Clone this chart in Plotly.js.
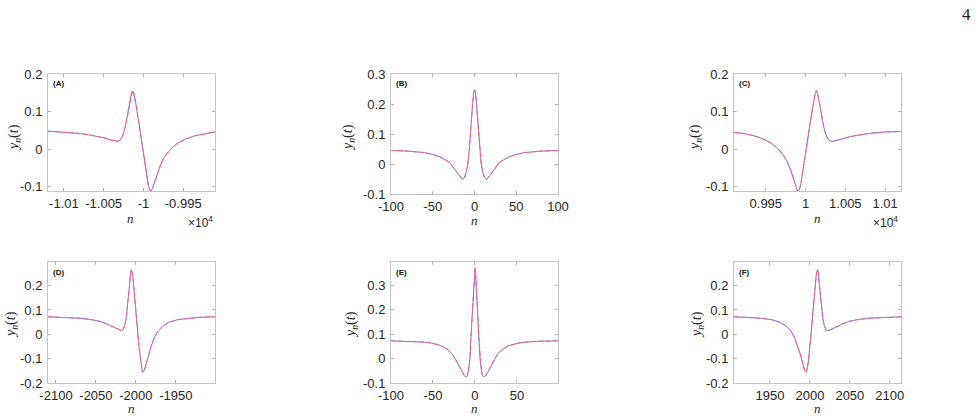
<!DOCTYPE html>
<html>
<head>
<meta charset="utf-8">
<script src="https://cdn.plot.ly/plotly-3.0.1.min.js"></script>
<style>html,body{margin:0;padding:0;background:#fff;}#chart{width:978px;height:417px;}</style>
</head>
<body>
<div id="chart"></div>
<script>
// ---------- data ----------
const nA = [-10120,-10100,-10080,-10065,-10055,-10047,-10040,-10035,-10032,-10029,-10026,-10023,-10020,-10017,-10015,-10013.5,-10012,-10009,-10005,-10001,-9997,-9994,-9992,-9990.5,-9989,-9986,-9982,-9977,-9972,-9965,-9957,-9947,-9935,-9922,-9910];
const yA_blue = [0.048,0.046,0.042,0.037,0.033,0.029,0.024,0.021,0.021,0.025,0.036,0.058,0.090,0.127,0.150,0.155,0.148,0.115,0.060,0.003,-0.055,-0.093,-0.109,-0.111,-0.106,-0.088,-0.060,-0.033,-0.016,0.002,0.016,0.027,0.036,0.042,0.046];
const yA_red  = [0.048,0.046,0.042,0.037,0.033,0.029,0.024,0.021,0.021,0.025,0.036,0.058,0.090,0.127,0.150,0.156,0.148,0.115,0.060,0.003,-0.055,-0.093,-0.109,-0.112,-0.106,-0.088,-0.060,-0.033,-0.016,0.002,0.016,0.027,0.036,0.042,0.046];

const nB = [-100,-80,-60,-50,-40,-30,-25,-20,-17,-14.5,-12,-10,-8,-6,-4,-3,-2,-1,0,1,2,3,4,6,8,10,12,14.5,17,20,25,30,40,50,60,80,100];
const yB_blue = [0.045,0.043,0.038,0.032,0.022,0.006,-0.013,-0.032,-0.044,-0.051,-0.045,-0.028,0.000,0.055,0.135,0.180,0.215,0.240,0.247,0.240,0.215,0.180,0.135,0.055,0.000,-0.028,-0.045,-0.051,-0.044,-0.032,-0.013,0.006,0.022,0.032,0.038,0.043,0.045];
const yB_red  = [0.045,0.043,0.038,0.032,0.022,0.006,-0.013,-0.032,-0.044,-0.052,-0.045,-0.028,0.000,0.055,0.135,0.180,0.216,0.242,0.250,0.242,0.216,0.180,0.135,0.055,0.000,-0.028,-0.045,-0.052,-0.044,-0.032,-0.013,0.006,0.022,0.032,0.038,0.043,0.045];

const nC = [9910,9922,9935,9947,9957,9965,9972,9977,9982,9986,9989,9990.5,9992,9994,9997,10001,10005,10009,10012,10013.5,10015,10017,10020,10023,10026,10029,10032,10035,10040,10047,10055,10065,10080,10100,10120];
const yC_blue = [0.045,0.042,0.036,0.027,0.016,0.002,-0.016,-0.033,-0.060,-0.088,-0.106,-0.111,-0.109,-0.093,-0.055,0.003,0.060,0.115,0.148,0.155,0.150,0.127,0.090,0.058,0.036,0.025,0.021,0.021,0.024,0.029,0.033,0.037,0.042,0.046,0.047];
const yC_red  = [0.045,0.042,0.036,0.027,0.016,0.002,-0.016,-0.033,-0.060,-0.088,-0.106,-0.112,-0.109,-0.093,-0.055,0.003,0.060,0.115,0.148,0.156,0.150,0.127,0.090,0.058,0.036,0.025,0.021,0.021,0.024,0.029,0.033,0.037,0.042,0.046,0.047];

const nD = [-2110,-2090,-2070,-2055,-2045,-2037,-2030,-2024,-2020,-2018,-2016,-2014,-2012,-2010,-2008,-2006.5,-2005.5,-2004,-2002,-2000,-1998,-1996,-1994,-1992,-1991,-1989.5,-1987,-1984,-1981,-1977,-1972,-1966,-1958,-1948,-1935,-1920,-1901];
const yD_blue = [0.072,0.070,0.066,0.060,0.053,0.043,0.033,0.022,0.016,0.015,0.019,0.035,0.070,0.125,0.200,0.255,0.267,0.245,0.180,0.100,0.020,-0.055,-0.115,-0.150,-0.155,-0.148,-0.120,-0.082,-0.050,-0.015,0.015,0.035,0.050,0.060,0.066,0.070,0.072];
const yD_red  = [0.072,0.070,0.066,0.060,0.053,0.043,0.033,0.022,0.016,0.015,0.019,0.035,0.070,0.125,0.200,0.255,0.265,0.245,0.180,0.100,0.020,-0.055,-0.115,-0.152,-0.156,-0.148,-0.120,-0.082,-0.050,-0.015,0.015,0.035,0.050,0.060,0.066,0.070,0.072];

const nE = [-100,-80,-60,-50,-40,-33,-27,-22,-18,-15,-12.5,-10.5,-9,-7.5,-6,-4.5,-3,-2,-1,0,1,2,3,4.5,6,7.5,9,10.5,12.5,15,18,22,27,33,40,50,60,80,99];
const yE_blue = [0.072,0.071,0.067,0.062,0.052,0.038,0.018,-0.010,-0.038,-0.058,-0.071,-0.075,-0.070,-0.045,0.000,0.100,0.200,0.280,0.335,0.355,0.335,0.280,0.200,0.100,0.000,-0.045,-0.070,-0.075,-0.071,-0.058,-0.038,-0.010,0.018,0.038,0.052,0.062,0.067,0.071,0.072];
const yE_red  = [0.072,0.071,0.067,0.062,0.052,0.038,0.018,-0.010,-0.038,-0.058,-0.071,-0.075,-0.070,-0.045,0.000,0.100,0.205,0.290,0.345,0.375,0.345,0.290,0.205,0.100,0.000,-0.045,-0.070,-0.075,-0.071,-0.058,-0.038,-0.010,0.018,0.038,0.052,0.062,0.067,0.071,0.072];

const nF = [1905,1924,1939,1952,1962,1970,1976,1981,1985,1988,1991,1993.5,1995,1996,1998,2000,2002,2004,2006,2008,2009.5,2010.5,2012,2014,2016,2018,2020,2022,2024,2028,2034,2041,2049,2059,2074,2094,2114];
const yF_blue = [0.072,0.070,0.066,0.060,0.050,0.035,0.015,-0.015,-0.050,-0.082,-0.120,-0.148,-0.152,-0.148,-0.115,-0.055,0.020,0.100,0.180,0.245,0.267,0.255,0.200,0.125,0.070,0.035,0.019,0.015,0.016,0.022,0.033,0.043,0.053,0.060,0.066,0.070,0.072];
const yF_red  = [0.072,0.070,0.066,0.060,0.050,0.035,0.015,-0.015,-0.050,-0.082,-0.120,-0.152,-0.158,-0.152,-0.115,-0.055,0.020,0.100,0.180,0.245,0.265,0.255,0.200,0.125,0.070,0.035,0.019,0.015,0.016,0.022,0.033,0.043,0.053,0.060,0.066,0.070,0.072];

// tick values and labels
const xTickA = [-10100,-10050,-10000,-9950], xTextA = ['-1.01','-1.005','-1','-0.995'];
const xTickB = [-100,-50,0,50,100],          xTextB = ['-100','-50','0','50','100'];
const xTickC = [9950,10000,10050,10100],     xTextC = ['0.995','1','1.005','1.01'];
const xTickD = [-2100,-2050,-2000,-1950],    xTextD = ['-2100','-2050','-2000','-1950'];
const xTickE = [-100,-50,0,50],              xTextE = ['-100','-50','0','50'];
const xTickF = [1950,2000,2050,2100],        xTextF = ['1950','2000','2050','2100'];
const yTickAC = [-0.1,0,0.1,0.2],            yTextAC = ['-0.1','0','0.1','0.2'];
const yTickBE = [-0.1,0,0.1,0.2,0.3],        yTextBE = ['-0.1','0','0.1','0.2','0.3'];
const yTickDF = [-0.2,-0.1,0,0.1,0.2],       yTextDF = ['-0.2','-0.1','0','0.1','0.2'];
const panelNames = ['(A)','(B)','(C)','(D)','(E)','(F)'];

// ---------- layout (pixel geometry) ----------
const W = 978, H = 417;
const px = v => v / W, py = v => 1 - v / H;

const panels = [
  {n:nA, b:yA_blue, r:yA_red, xr:[-10120,-9910], yr:[-0.111,0.2],  box:[48,74,215,191],  xt:xTickA, xl:xTextA, yt:yTickAC, yl:yTextAC, ylab:[15,138],  xlab:[130,219], exp:[200,222]},
  {n:nB, b:yB_blue, r:yB_red, xr:[-100,100],     yr:[-0.1,0.3],    box:[391,74,558,194], xt:xTickB, xl:xTextB, yt:yTickBE, yl:yTextBE, ylab:[349,138], xlab:[474,220]},
  {n:nC, b:yC_blue, r:yC_red, xr:[9910,10120],   yr:[-0.111,0.2],  box:[734,74,901,191], xt:xTickC, xl:xTextC, yt:yTickAC, yl:yTextAC, ylab:[696,138], xlab:[817,219], exp:[885,222]},
  {n:nD, b:yD_blue, r:yD_red, xr:[-2110,-1901],  yr:[-0.2,0.297],  box:[48,262,215,383], xt:xTickD, xl:xTextD, yt:yTickDF, yl:yTextDF, ylab:[11,325],  xlab:[131,408]},
  {n:nE, b:yE_blue, r:yE_red, xr:[-100,99],      yr:[-0.1,0.394],  box:[391,262,558,383],xt:xTickE, xl:xTextE, yt:yTickBE, yl:yTextBE, ylab:[351,325], xlab:[474,408]},
  {n:nF, b:yF_blue, r:yF_red, xr:[1905,2114],    yr:[-0.2,0.297],  box:[734,262,901,383],xt:xTickF, xl:xTextF, yt:yTickDF, yl:yTextDF, ylab:[697,325], xlab:[817,408]}
];

const tickFont = {family:'Liberation Sans, Arial, sans-serif', size:13, color:'#262626'};
const mathFont = {family:'Liberation Serif, Times New Roman, serif', size:14, color:'#262626'};
const data = [];
const layout = {
  width: W, height: H, margin:{l:0,r:0,t:0,b:0},
  paper_bgcolor:'#ffffff', plot_bgcolor:'#ffffff', showlegend:false,
  annotations: []
};

panels.forEach((p, i) => {
  const k = i === 0 ? '' : String(i + 1);
  data.push({x:p.n, y:p.b, xaxis:'x'+k, yaxis:'y'+k, type:'scatter', mode:'lines',
             line:{color:'rgb(120,120,255)', width:1}, hoverinfo:'skip'});
  data.push({x:p.n, y:p.r, xaxis:'x'+k, yaxis:'y'+k, type:'scatter', mode:'lines',
             line:{color:'rgb(255,95,110)', width:1, dash:'5px,2px'}, hoverinfo:'skip'});
  const common = {showline:true, linecolor:'#c4c4c4', linewidth:1, mirror:'allticks',
    ticks:'inside', ticklen:3, tickcolor:'#b0b0b0', tickwidth:1, showgrid:false, zeroline:false,
    tickfont:tickFont, tickmode:'array', fixedrange:true};
  layout['xaxis'+k] = Object.assign({}, common, {
    domain:[px(p.box[0]), px(p.box[2])], range:p.xr, anchor:'y'+k,
    tickvals:p.xt, ticktext:p.xl, ticklabelstandoff:0});
  layout['yaxis'+k] = Object.assign({}, common, {
    domain:[py(p.box[3]), py(p.box[1])], range:p.yr, anchor:'x'+k,
    tickvals:p.yt, ticktext:p.yl, ticklabelstandoff:2});
  layout.annotations.push({xref:'paper', yref:'paper', x:px(p.ylab[0]), y:py(p.ylab[1]),
    text:'<i>y</i><sub><i>n</i></sub>(<i>t</i>)', textangle:-90, showarrow:false,
    xanchor:'center', yanchor:'middle', font:mathFont});
  layout.annotations.push({xref:'paper', yref:'paper', x:px(p.xlab[0]), y:py(p.xlab[1]),
    text:'<i>n</i>', showarrow:false, xanchor:'center', yanchor:'middle',
    font:{family:mathFont.family, size:13, color:mathFont.color}});
  layout.annotations.push({xref:'paper', yref:'paper', x:px(p.box[0] + 3), y:py(p.box[1] + 10),
    text:'<b>' + panelNames[i] + '</b>', showarrow:false, xanchor:'left', yanchor:'middle',
    font:{family:'Liberation Sans, Arial, sans-serif', size:8, color:'#111'}});
  if (p.exp) {
    layout.annotations.push({xref:'paper', yref:'paper', x:px(p.exp[0]), y:py(p.exp[1]),
      text:'×10<sup>4</sup>', showarrow:false, xanchor:'center', yanchor:'middle',
      font:{family:'Liberation Sans, Arial, sans-serif', size:12, color:'#262626'}});
  }
});

layout.annotations.push({xref:'paper', yref:'paper', x:px(966), y:py(14), text:'4',
  showarrow:false, xanchor:'center', yanchor:'middle',
  font:{family:'Liberation Serif, Times New Roman, serif', size:17, color:'#222'}});

Plotly.newPlot('chart', data, layout, {staticPlot:true, displayModeBar:false});
</script>
</body>
</html>
